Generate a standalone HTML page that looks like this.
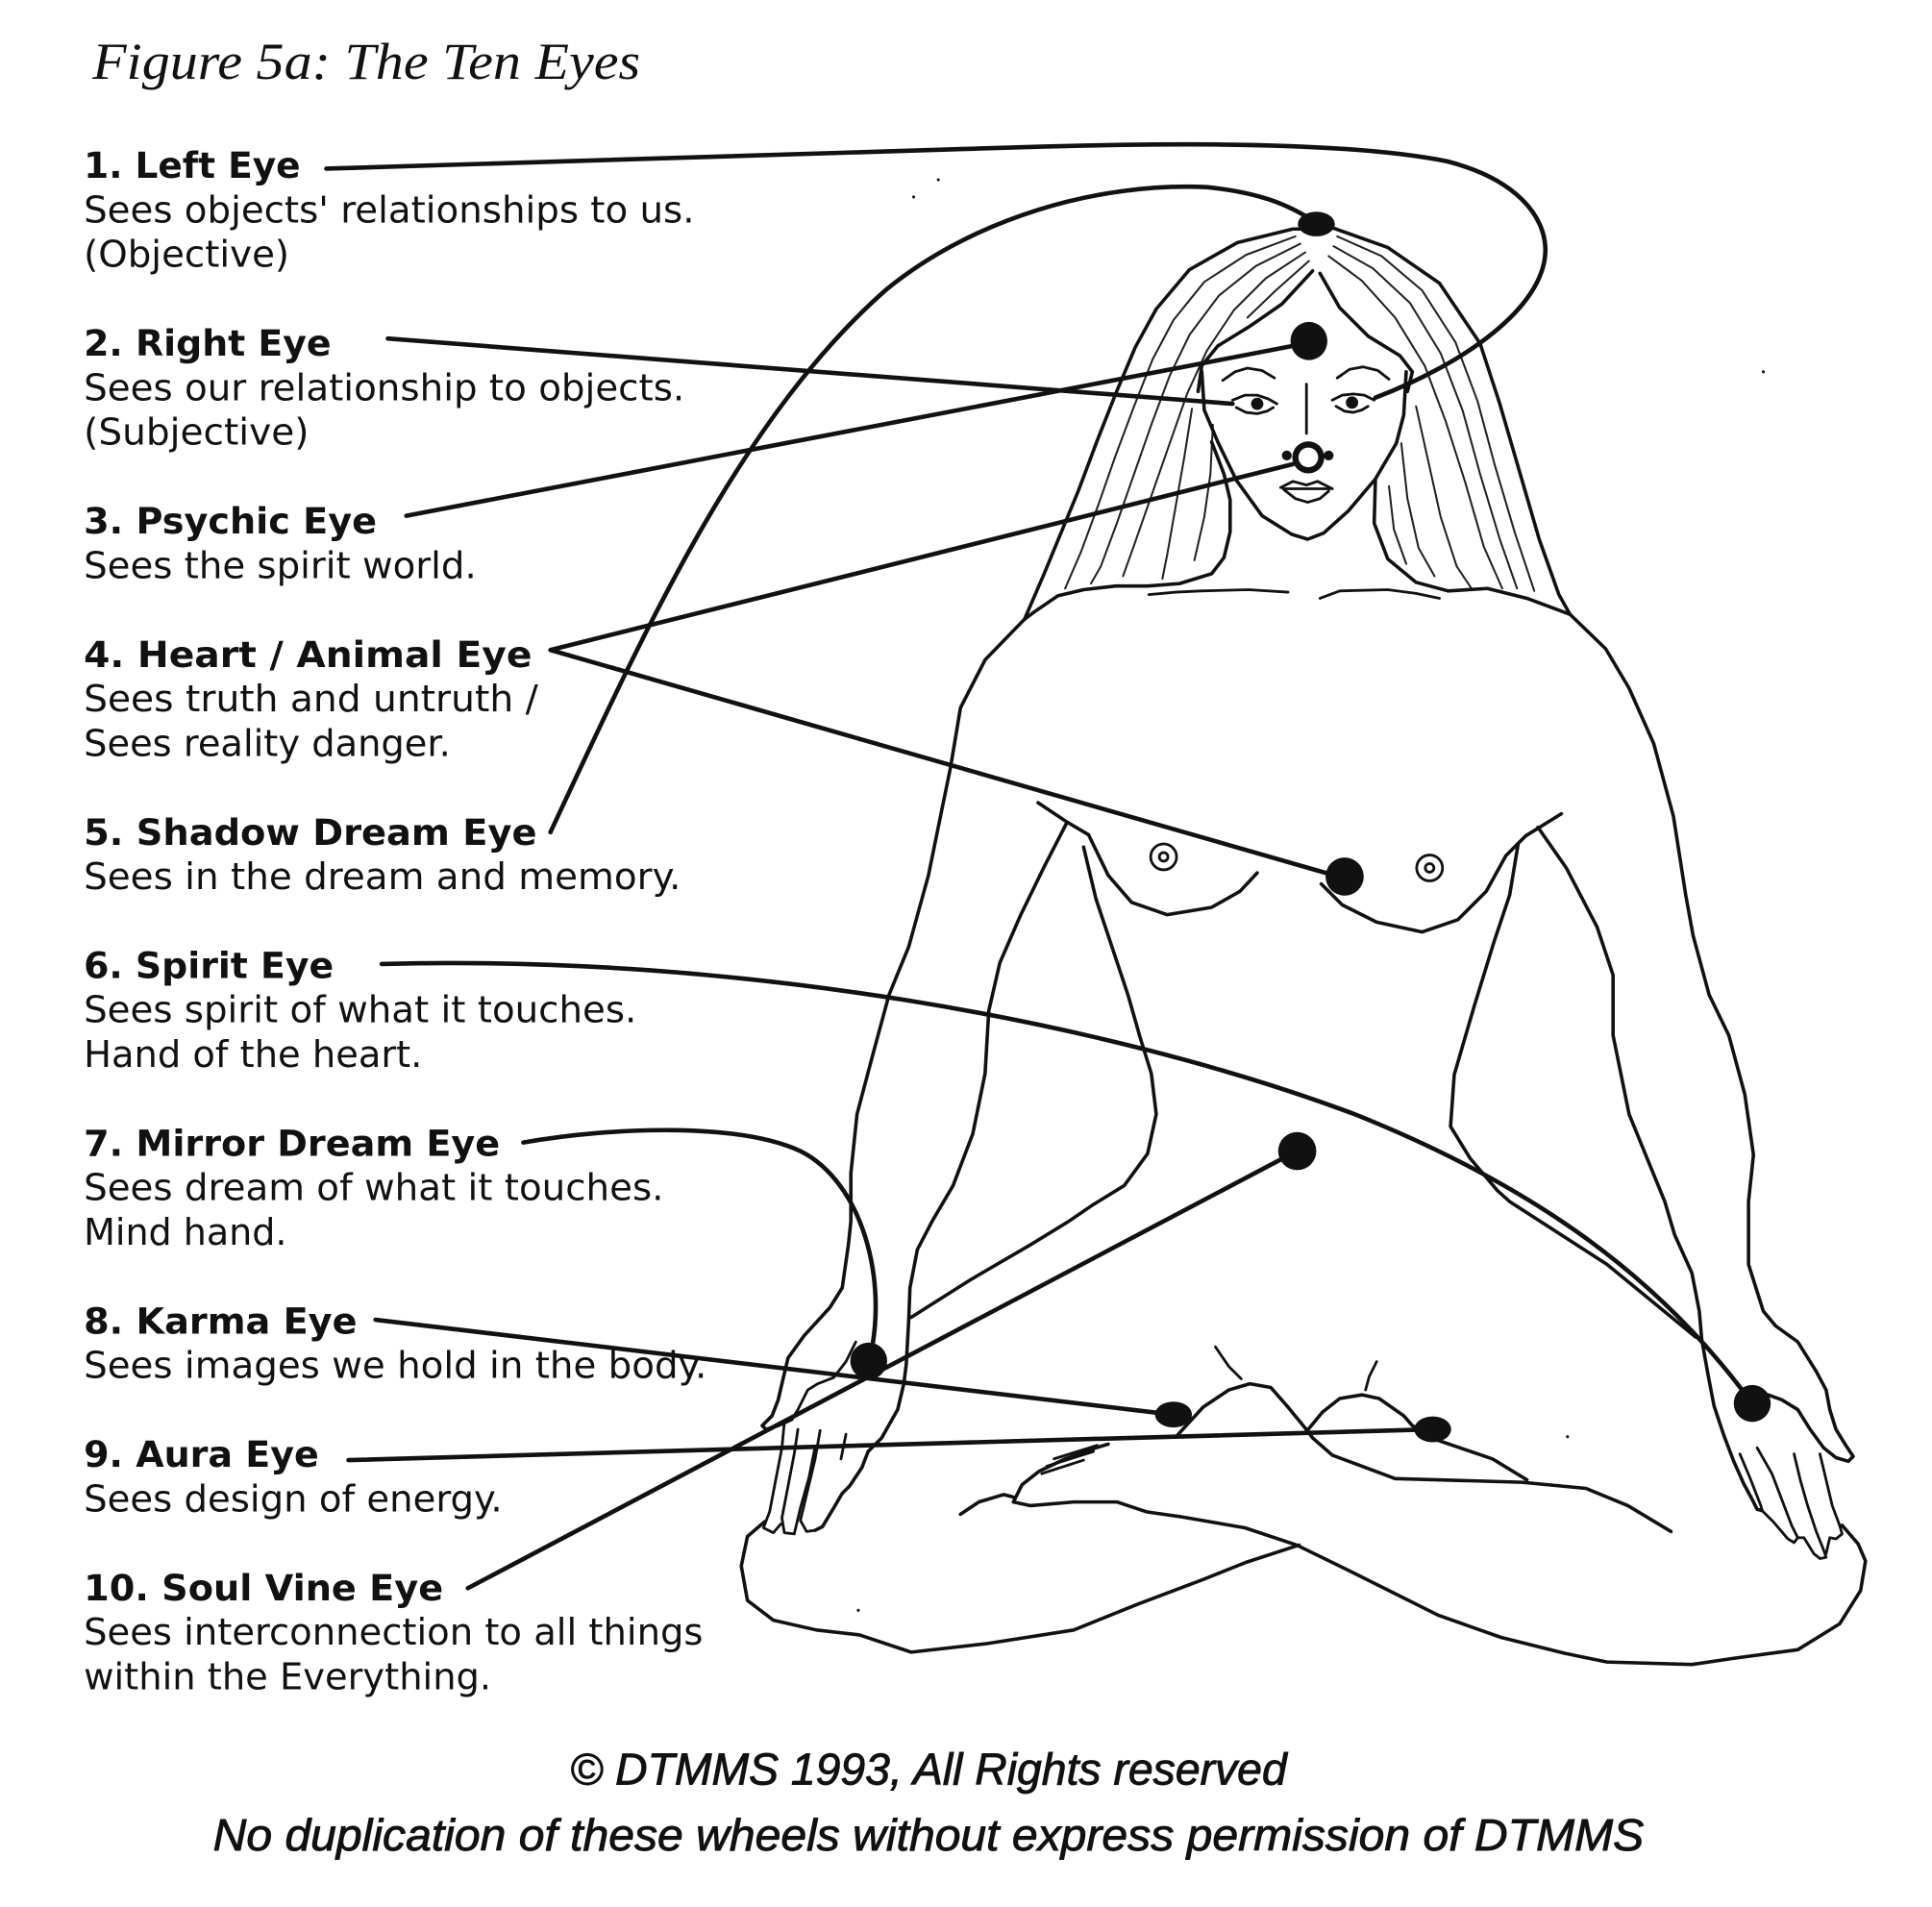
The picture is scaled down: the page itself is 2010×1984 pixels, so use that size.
<!DOCTYPE html>
<html><head><meta charset="utf-8"><style>
html,body{margin:0;padding:0;background:#fff;}
svg{display:block;}
.t{font-family:"DejaVu Sans","Liberation Sans",sans-serif;font-size:30px;fill:#111;}
.b{font-family:"DejaVu Sans","Liberation Sans",sans-serif;font-size:29.5px;font-weight:bold;fill:#111;}
.c{fill:none;stroke:#111;stroke-width:3.6;stroke-linecap:round;stroke-linejoin:round;}
.o{fill:none;stroke:#111;stroke-width:2.8;stroke-linecap:round;stroke-linejoin:round;}
.h{fill:none;stroke:#222;stroke-width:1.6;stroke-linecap:round;stroke-linejoin:round;}
.f{fill:none;stroke:#111;stroke-width:2.2;stroke-linecap:round;stroke-linejoin:round;}
</style></head><body>
<svg width="2010" height="1984" viewBox="0 0 1569 1549" preserveAspectRatio="none" xmlns="http://www.w3.org/2000/svg">
<rect width="1569" height="1549" fill="#fff"/>

<!-- Title -->
<text x="75" y="64" font-family="'Liberation Serif',serif" font-style="italic" font-size="42" fill="#111" textLength="445" lengthAdjust="spacingAndGlyphs">Figure 5a: The Ten Eyes</text>

<!-- Labels -->
<text class="b" x="68" y="144.6" textLength="176" lengthAdjust="spacingAndGlyphs">1. Left Eye</text>
<text class="t" x="68" y="180.7" textLength="496" lengthAdjust="spacingAndGlyphs">Sees objects' relationships to us.</text>
<text class="t" x="68" y="216.8" textLength="167" lengthAdjust="spacingAndGlyphs">(Objective)</text>

<text class="b" x="68" y="289" textLength="201" lengthAdjust="spacingAndGlyphs">2. Right Eye</text>
<text class="t" x="68" y="325.1" textLength="488" lengthAdjust="spacingAndGlyphs">Sees our relationship to objects.</text>
<text class="t" x="68" y="361.2" textLength="183" lengthAdjust="spacingAndGlyphs">(Subjective)</text>

<text class="b" x="68" y="433.4" textLength="238" lengthAdjust="spacingAndGlyphs">3. Psychic Eye</text>
<text class="t" x="68" y="469.5" textLength="319" lengthAdjust="spacingAndGlyphs">Sees the spirit world.</text>

<text class="b" x="68" y="541.7" textLength="364" lengthAdjust="spacingAndGlyphs">4. Heart / Animal Eye</text>
<text class="t" x="68" y="577.8" textLength="369" lengthAdjust="spacingAndGlyphs">Sees truth and untruth /</text>
<text class="t" x="68" y="613.9" textLength="298" lengthAdjust="spacingAndGlyphs">Sees reality danger.</text>

<text class="b" x="68" y="686.1" textLength="368" lengthAdjust="spacingAndGlyphs">5. Shadow Dream Eye</text>
<text class="t" x="68" y="722.2" textLength="485" lengthAdjust="spacingAndGlyphs">Sees in the dream and memory.</text>

<text class="b" x="68" y="794.4" textLength="203" lengthAdjust="spacingAndGlyphs">6. Spirit Eye</text>
<text class="t" x="68" y="830.5" textLength="449" lengthAdjust="spacingAndGlyphs">Sees spirit of what it touches.</text>
<text class="t" x="68" y="866.6" textLength="275" lengthAdjust="spacingAndGlyphs">Hand of the heart.</text>

<text class="b" x="68" y="938.8" textLength="338" lengthAdjust="spacingAndGlyphs">7. Mirror Dream Eye</text>
<text class="t" x="68" y="974.9" textLength="471" lengthAdjust="spacingAndGlyphs">Sees dream of what it touches.</text>
<text class="t" x="68" y="1011" textLength="165" lengthAdjust="spacingAndGlyphs">Mind hand.</text>

<text class="b" x="68" y="1083.2" textLength="222" lengthAdjust="spacingAndGlyphs">8. Karma Eye</text>
<text class="t" x="68" y="1119.3" textLength="506" lengthAdjust="spacingAndGlyphs">Sees images we hold in the body.</text>

<text class="b" x="68" y="1191.5" textLength="191" lengthAdjust="spacingAndGlyphs">9. Aura Eye</text>
<text class="t" x="68" y="1227.6" textLength="340" lengthAdjust="spacingAndGlyphs">Sees design of energy.</text>

<text class="b" x="68" y="1299.8" textLength="292" lengthAdjust="spacingAndGlyphs">10. Soul Vine Eye</text>
<text class="t" x="68" y="1335.9" textLength="503" lengthAdjust="spacingAndGlyphs">Sees interconnection to all things</text>
<text class="t" x="68" y="1372" textLength="331" lengthAdjust="spacingAndGlyphs">within the Everything.</text>

<!-- Copyright -->
<text x="463" y="1449.5" font-family="'Liberation Sans',sans-serif" font-style="italic" font-size="36" fill="#111" stroke="#111" stroke-width="0.7" textLength="582" lengthAdjust="spacingAndGlyphs">© DTMMS 1993, All Rights reserved</text>
<text x="173" y="1503" font-family="'Liberation Sans',sans-serif" font-style="italic" font-size="36" fill="#111" stroke="#111" stroke-width="0.7" textLength="1162" lengthAdjust="spacingAndGlyphs">No duplication of these wheels without express permission of DTMMS</text>

<!-- ===== Figure ===== -->
<!-- hair outer -->
<path class="o" d="M1056,186 L1050,186 L1005,197 L966,219 L939,251 L922,282 L906,320 L891,358 L876,398 L862,432 L848,466 L832,503"/>
<path class="o" d="M1082,185 L1127,201 L1169,230 L1202,279 L1218,328 L1234,383 L1250,438 L1266,483 L1275,499"/>
<!-- hair part -->
<path class="o" d="M1066,220 L1041,247 L1015,265 L989,281 L976,297 L973,318"/>
<path class="o" d="M1072,222 L1088,250 L1111,273 L1137,289 L1147,302 L1143,318"/>
<!-- hair strands -->
<path class="h" d="M1052,192 L1012,207 L978,229 L953,260 L936,292 L921,330 L906,370 L892,410 L878,448 L865,478"/>
<path class="h" d="M1056,198 L1020,216 L990,240 L966,272 L950,305 L935,345 L921,385 L907,425 L894,460 L886,474"/>
<path class="h" d="M1060,205 L1028,226 L1002,252 L980,285 L964,320 L950,360 L936,400 L922,440 L912,468"/>
<path class="h" d="M1063,212 L1036,236 L1013,258"/>
<path class="h" d="M968,332 L962,370 L955,410 L948,450 L944,470"/>
<path class="h" d="M985,345 L983,385 L978,420 L970,455"/>
<path class="h" d="M1086,192 L1122,208 L1155,236 L1182,278 L1200,326 L1214,378 L1230,432 L1246,480"/>
<path class="h" d="M1083,200 L1115,218 L1145,246 L1170,287 L1188,334 L1202,385 L1218,438 L1232,478"/>
<path class="h" d="M1079,208 L1106,228 L1133,258 L1157,297 L1174,342 L1190,392 L1205,444 L1220,478"/>
<path class="h" d="M1150,330 L1160,375 L1170,420 L1183,460 L1195,478"/>
<path class="h" d="M1138,360 L1143,405 L1152,445 L1165,468"/>
<path class="h" d="M1128,395 L1132,430 L1142,458"/>
<!-- hair bottom -->
<path class="o" d="M832,503 L840,497 L859,484 L880,479 L906,476 L932,476 L958,474 L984,466 L994,453 L999,432 L999,406 L994,385 L984,359"/>
<path class="o" d="M1117,389 L1116,425 L1127,454 L1150,473 L1176,480 L1208,478 L1240,486 L1275,499"/>
<!-- face -->
<path class="o" d="M976,302 L978,333 L989,359 L1004,390 L1025,419 L1049,434 L1062,438 L1075,433 L1095,415 L1117,389 L1134,360 L1140,337 L1142,302"/>
<path class="f" d="M993,309 L1003,302 L1013,299 L1025,301 L1035,307"/>
<path class="f" d="M1086,307 L1096,300 L1107,298 L1119,301 L1128,308"/>
<path class="f" d="M1001,325 L1011,321 L1021,321 L1030,324 L1037,328 M1004,331 L1012,335 L1021,336 L1029,334 L1034,331"/>
<circle cx="1021" cy="328" r="5" fill="#111"/>
<path class="f" d="M1082,325 L1090,321 L1099,320 L1108,321 L1116,325 M1085,330 L1092,334 L1099,335 L1106,333 L1111,330"/>
<circle cx="1098" cy="327" r="5" fill="#111"/>
<path class="f" d="M1061,312 L1061,352"/>
<path class="f" d="M1040,396 L1050,391 L1061,394 L1070,391 L1082,397 M1043,398 L1052,405 L1062,408 L1072,405 L1079,399 M1042,397 L1080,397"/>
<!-- collar -->
<path class="f" d="M933,483 L955,481 L975,480 L1014,479 L1046,481"/>
<path class="f" d="M1072,486 L1088,480 L1127,479 L1150,482 L1169,486"/>

<!-- arms & torso -->
<path class="o" d="M832,503 L800,536 L780,575 L772,623 L764,662 L754,711 L738,769 L722,808 L709,856 L696,905 L691,953 L691,992 L689,1011 L684,1046 L674,1062 L653,1085 L640,1103 L635,1124 L632,1137 L627,1150 L619,1158 L622,1161 L632,1158 L643,1153"/>
<path class="o" d="M843,652 L867,668 L884,678"/>
<path class="o" d="M866,669 L848,704 L829,743 L812,782 L803,821 L800,872 L790,921 L774,963 L757,992 L745,1015 L739,1046 L738,1072 L736,1108 L734,1124 L729,1145 L716,1168 L705,1179 L700,1192 L690,1207 L684,1213 L677,1225 L668,1240 L662,1243"/>
<path class="o" d="M880,688 L890,730 L903,769 L916,808 L926,843 L935,872 L939,905 L932,937 L913,963 L887,979 L868,992 L837,1011 L789,1039 L740,1070"/>
<path class="o" d="M884,678 L900,711 L919,733 L948,743 L984,737 L1007,724 L1021,709"/>
<path class="o" d="M1073,718 L1090,735 L1118,749 L1155,757 L1184,747 L1207,724 L1223,695 L1239,679 L1268,661"/>
<path class="o" d="M1233,685 L1226,727 L1213,766 L1197,818 L1181,873 L1178,915 L1194,941 L1216,967 L1226,976 L1305,1027 L1377,1086"/>
<path class="o" d="M1249,672 L1272,705 L1297,753 L1310,792 L1310,841 L1323,905 L1343,954 L1352,976 L1360,1003 L1374,1034 L1380,1065 L1382,1088 L1387,1116 L1392,1142 L1400,1166 L1408,1187 L1416,1205 L1423,1218 L1427,1226 L1431,1227"/>
<path class="o" d="M1275,499 L1304,527 L1323,559 L1343,604 L1359,663 L1369,727 L1375,760 L1388,808 L1404,841 L1417,889 L1424,938 L1420,976 L1420,1027 L1432,1065 L1442,1077 L1460,1090 L1475,1114 L1483,1129 L1486,1145 L1491,1161 L1499,1174 L1505,1183 L1501,1187 L1491,1184 L1481,1176 L1470,1161 L1460,1145 L1447,1137 L1436,1133"/>
<!-- nipples -->
<circle cx="945" cy="696" r="10.5" class="f"/>
<circle cx="945" cy="696" r="3.5" class="f"/>
<circle cx="1161" cy="705" r="10.5" class="f"/>
<circle cx="1161" cy="705" r="3.5" class="f"/>

<!-- left hand -->
<path class="f" d="M695,1090 L687,1106 L677,1119 L664,1124 L656,1129 L648,1145 L643,1153"/>
<path class="f" d="M637,1155 L635,1176 L630,1202 L625,1228 L620,1241 L628,1245 L634,1238"/>
<path class="f" d="M648,1161 L645,1181 L640,1207 L635,1233 L637,1245 L645,1246 L650,1225 L657,1200 L662,1175"/>
<path class="f" d="M666,1162 L662,1185 L656,1210 L650,1235 L655,1244 L662,1243"/>
<path class="f" d="M687,1165 L683,1185"/>

<!-- right hand -->
<path class="f" d="M1413,1181 L1421,1200 L1430,1223 L1431,1227"/>
<path class="f" d="M1427,1176 L1439,1197 L1447,1218 L1455,1239 L1460,1249 L1457,1253 L1452,1250 L1440,1236 L1431,1227"/>
<path class="f" d="M1457,1181 L1462,1202 L1468,1223 L1475,1244 L1481,1259 L1483,1265 L1478,1266 L1473,1262 L1465,1249 L1460,1249"/>
<path class="f" d="M1478,1181 L1483,1202 L1488,1223 L1494,1239 L1496,1246 L1491,1250 L1486,1249 L1483,1262"/>

<!-- legs -->
<path class="o" d="M621,1236 L607,1248 L602,1272 L607,1300 L628,1316 L663,1324 L698,1328 L740,1342 L802,1335 L872,1324 L924,1303 L977,1283 L1012,1269 L1055,1255"/>
<path class="o" d="M780,1230 L795,1220 L815,1214 L823,1216"/>
<path class="o" d="M823,1220 L830,1206 L844,1195 L865,1185 L890,1176 L900,1173"/>
<path class="f" d="M850,1191 L888,1179 M856,1185 L891,1174 M846,1197 L880,1186"/>
<path class="o" d="M823,1220 L837,1223 L872,1220 L907,1220 L931,1228 L959,1232 L1011,1241 L1053,1255 L1098,1277 L1140,1298 L1168,1312 L1219,1330 L1271,1343 L1305,1350 L1374,1352 L1408,1347 L1460,1340 L1494,1319 L1511,1292 L1515,1268 L1509,1254 L1496,1239"/>
<path class="o" d="M956,1166 L977,1143 L998,1129 L1015,1124 L1032,1127 L1046,1143 L1060,1160 L1066,1168 L1082,1182 L1133,1201 L1236,1204 L1288,1209 L1322,1223 L1357,1244"/>
<path class="o" d="M1060,1164 L1074,1147 L1088,1136 L1106,1133 L1120,1136 L1140,1150 L1147,1158 L1168,1170 L1212,1185 L1240,1202"/>
<path class="f" d="M987,1094 L998,1110 L1008,1120"/>
<path class="f" d="M1118,1106 L1112,1118 L1109,1129"/>

<!-- ===== Connectors ===== -->
<path class="c" d="M265,137 L784,121 C900,117 1080,112 1175,131 C1230,145 1256,175 1255,205 C1253,250 1190,295 1117,323"/>
<path class="c" d="M315,275 L1001,328"/>
<path class="c" d="M330,419 L1050,281"/>
<path class="c" d="M1050,377 L447,528 L1080,710"/>
<path class="c" d="M447,676 C520,520 600,340 720,235 C790,178 890,148 980,152 C1020,156 1045,165 1069,181"/>
<path class="c" d="M310,783 C600,775 900,830 1100,905 C1250,965 1350,1040 1423,1140"/>
<path class="c" d="M425,928 C500,915 600,912 650,935 C700,960 722,1040 706,1105"/>
<path class="c" d="M305,1072 L952,1149"/>
<path class="c" d="M283,1186 L1163,1161"/>
<path class="c" d="M380,1290 L1053,935"/>

<!-- dots -->
<ellipse cx="1069" cy="182" rx="15" ry="10" fill="#111"/>
<ellipse cx="1063" cy="277" rx="15" ry="15.5" fill="#111"/>
<circle cx="1045" cy="370" r="4" fill="#111"/>
<circle cx="1079" cy="370" r="4" fill="#111"/>
<circle cx="1062.5" cy="371.5" r="13" fill="#111"/>
<circle cx="1062.5" cy="371.5" r="8" fill="#fff"/>
<circle cx="1092" cy="712" r="15.5" fill="#111"/>
<circle cx="1053.5" cy="935" r="15.5" fill="#111"/>
<circle cx="705.5" cy="1105.5" r="15" fill="#111"/>
<ellipse cx="953" cy="1149" rx="15" ry="10.5" fill="#111"/>
<ellipse cx="1163.5" cy="1161" rx="15" ry="10.5" fill="#111"/>
<circle cx="1423" cy="1140" r="15" fill="#111"/>

<!-- specks -->
<circle cx="742" cy="160" r="1.2" fill="#111"/>
<circle cx="762" cy="146" r="1.2" fill="#111"/>
<circle cx="1432" cy="302" r="1.2" fill="#111"/>
<circle cx="1273" cy="1167" r="1.2" fill="#111"/>
<circle cx="697" cy="1308" r="1.2" fill="#111"/>
</svg>
</body></html>
